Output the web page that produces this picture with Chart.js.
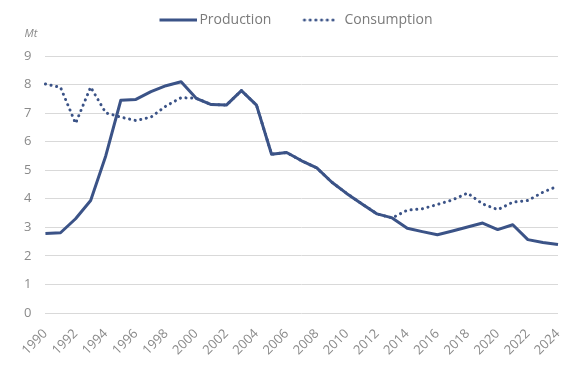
<!DOCTYPE html>
<html>
<head>
<meta charset="utf-8">
<script src="https://cdn.jsdelivr.net/npm/chart.js@4"></script>
<style>
  html, body { margin: 0; padding: 0; background: #fff; }
  #wrap { width: 585px; height: 368px; position: relative; }
</style>
</head>
<body>
<div id="wrap"><canvas id="c"></canvas></div>
<script>
const years = ['1990','1991','1992','1993','1994','1995','1996','1997','1998','1999','2000','2001','2002','2003','2004','2005','2006','2007','2008','2009','2010','2011','2012','2013','2014','2015','2016','2017','2018','2019','2020','2021','2022','2023','2024'];
const production = [2.78, 2.81, 3.30, 3.94, 5.50, 7.45, 7.48, 7.75, 7.96, 8.10, 7.52, 7.30, 7.28, 7.79, 7.28, 5.56, 5.62, 5.33, 5.08, 4.58, 4.18, 3.82, 3.47, 3.33, 2.97, 2.85, 2.74, 2.87, 3.01, 3.15, 2.92, 3.09, 2.57, 2.47, 2.40];
const consumption = [8.02, 7.90, 6.64, 7.91, 7.01, 6.86, 6.74, 6.86, 7.25, 7.54, 7.52, 7.30, 7.28, 7.79, 7.28, 5.56, 5.62, 5.33, 5.08, 4.58, 4.18, 3.82, 3.47, 3.33, 3.60, 3.65, 3.80, 3.96, 4.20, 3.82, 3.62, 3.88, 3.94, 4.23, 4.45];
const yTicks = [0,1,2,3,4,5,6,7,8,9];
const seriesNames = ['Production', 'Consumption'];
const unitLabel = 'Mt';

const lineColor = '#3b5387';

// legend symbol images (box width 57, image width 67 centred on the box)
function legendSymbol(dashed) {
  const c = document.createElement('canvas');
  c.width = 67; c.height = 4;
  const g = c.getContext('2d');
  g.strokeStyle = lineColor;
  g.lineWidth = 3;
  if (dashed) {
    g.setLineDash([0.1, 5.6]);
    g.lineCap = 'round';
    g.beginPath(); g.moveTo(29, 2); g.lineTo(62, 2); g.stroke();
  } else {
    g.beginPath(); g.moveTo(29, 2); g.lineTo(67, 2); g.stroke();
  }
  return c;
}
const legendSymbols = [legendSymbol(false), legendSymbol(true)];

const unitPlugin = {
  id: 'unitLabel',
  afterDraw(chart) {
    const ctx = chart.ctx;
    const a = chart.chartArea;
    ctx.save();
    ctx.font = 'italic 11px "Open Sans"';
    ctx.fillStyle = '#8a8a8a';
    ctx.textAlign = 'left';
    ctx.textBaseline = 'middle';
    ctx.fillText(unitLabel, a.left - 21, a.top - 22);
    ctx.restore();
  }
};

new Chart(document.getElementById('c'), {
  type: 'line',
  data: {
    labels: years,
    datasets: [
      {
        label: seriesNames[0],
        data: production,
        borderColor: lineColor,
        backgroundColor: lineColor,
        borderWidth: 3,
        pointRadius: 0,
        tension: 0,
        borderJoinStyle: 'round'
      },
      {
        label: seriesNames[1],
        data: consumption,
        borderColor: lineColor,
        backgroundColor: lineColor,
        borderWidth: 3,
        borderDash: [0.1, 5.6],
        borderCapStyle: 'round',
        pointRadius: 0,
        tension: 0
      }
    ]
  },
  options: {
    responsive: true,
    maintainAspectRatio: false,
    animation: false,
    layout: { padding: { top: 4, left: 10, right: 27, bottom: 0 } },
    plugins: {
      legend: {
        position: 'top',
        align: 'center',
        labels: {
          usePointStyle: true,
          pointStyleWidth: 57,
          padding: 9,
          color: '#7a7a7a',
          font: { family: '"Open Sans"', size: 14 },
          generateLabels: (chart) => {
            const items = Chart.defaults.plugins.legend.labels.generateLabels(chart);
            items.forEach((it, i) => { it.pointStyle = legendSymbols[i]; });
            return items;
          }
        }
      },
      title: {
        display: true,
        text: '',
        weight: 500,
        font: { size: 10, lineHeight: 1 },
        padding: { top: 0, bottom: 9 }
      },
      tooltip: { enabled: false }
    },
    scales: {
      x: {
        grid: { display: false },
        border: { display: false },
        afterFit: (scale) => { scale.height = 55; },
        ticks: {
          autoSkip: false,
          maxRotation: 45,
          minRotation: 45,
          padding: 5,
          color: '#8a8a8a',
          font: { family: '"Open Sans"', size: 13 },
          callback: function(v, i) { return i % 2 === 0 ? years[i] : null; }
        }
      },
      y: {
        min: yTicks[0],
        max: yTicks[yTicks.length - 1],
        afterBuildTicks: (scale) => { scale.ticks = yTicks.map(v => ({ value: v })); },
        grid: { color: '#d9d9d9', lineWidth: 1, drawTicks: false },
        border: { display: false },
        ticks: {
          padding: 14,
          color: '#8a8a8a',
          font: { family: '"Open Sans"', size: 13 }
        }
      }
    }
  },
  plugins: [unitPlugin]
});
</script>
</body>
</html>
